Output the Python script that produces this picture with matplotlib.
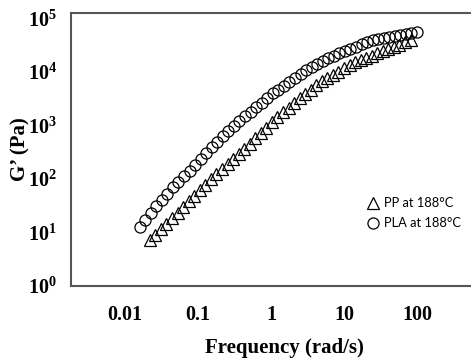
import matplotlib
matplotlib.use('Agg')
import matplotlib.pyplot as plt
import matplotlib.ticker as tck

# PLA at 188 C
pla_freq = [0.0158, 0.0189, 0.0225, 0.0268, 0.0319, 0.0380, 0.0453, 0.0540, 0.0643, 0.0766,
            0.0912, 0.109, 0.129, 0.154, 0.184, 0.219, 0.261, 0.310, 0.370, 0.441,
            0.525, 0.625, 0.745, 0.887, 1.06, 1.26, 1.50, 1.79, 2.13, 2.54,
            3.02, 3.60, 4.29, 5.11, 6.08, 7.24, 8.63, 10.3, 12.2, 14.6,
            17.4, 20.7, 24.7, 29.4, 35.0, 41.7, 49.7, 59.2, 70.5, 83.9, 100.0]
pla_g = [12.4, 16.9, 22.9, 31.2, 41.0, 53.4, 69.8, 88.9, 113.0, 143.5,
         184.5, 237.1, 304.8, 388.1, 492.0, 625.2, 788.9, 975.0, 1205, 1486,
         1811, 2198, 2679, 3251, 3963, 4688, 5546, 6561, 7745, 9162,
         10840, 12360, 14000, 15810, 17910, 20230, 22910, 25060, 27290, 29790,
         32510, 35480, 38640, 40460, 42270, 44060, 46130, 48190, 50230, 52600, 54830]

# PP at 188 C
pp_freq = [0.0219, 0.0261, 0.0310, 0.0370, 0.0441, 0.0525, 0.0625, 0.0745, 0.0887, 0.106,
           0.126, 0.150, 0.179, 0.213, 0.254, 0.302, 0.360, 0.429, 0.511, 0.608,
           0.724, 0.863, 1.03, 1.22, 1.46, 1.74, 2.07, 2.47, 2.94, 3.50,
           4.17, 4.97, 5.92, 7.05, 8.39, 10.0, 11.9, 14.2, 16.9, 20.1,
           24.0, 28.6, 34.0, 40.6, 48.3, 57.5, 68.5, 81.7]
pp_g = [7.16, 9.10, 11.6, 14.6, 18.6, 23.6, 29.9, 38.0, 48.2, 61.2,
        77.6, 98.6, 123.3, 153.5, 191.0, 237.1, 294.4, 366.4, 458.1, 575.4,
        724.4, 909.9, 1146, 1416, 1746, 2148, 2649, 3221, 3873, 4645,
        5585, 6714, 7745, 8872, 10160, 11640, 13340, 15030, 16520, 18200,
        20040, 22080, 24380, 26790, 29510, 32430, 35650, 39080]

x_ticks = [0.01, 0.1, 1, 10, 100]
x_labels = ['0.01', '0.1', '1', '10', '100']
y_ticks = [1, 10, 100, 1000, 10000, 100000]
y_labels = [r'$\mathbf{10^{%d}}$' % i for i in range(6)]

plt.rcParams.update({
    'font.family': 'Liberation Serif',
    'mathtext.fontset': 'custom',
    'mathtext.rm': 'Liberation Serif:bold',
    'mathtext.bf': 'Liberation Serif:bold',
    })

fig = plt.figure(figsize=(4.71, 3.62), dpi=100)
ax = fig.add_axes([71/471, 76/362, 400/471, 273/362])

ax.plot(pp_freq, pp_g, ls='none', marker='^', ms=8, mfc='none', mec='black', mew=0.9,
        label='PP at 188°C')
ax.plot(pla_freq, pla_g, ls='none', marker='o', ms=8, mfc='none', mec='black', mew=0.9,
        label='PLA at 188°C')

ax.set_xscale('log')
ax.set_yscale('log')
ax.set_xlim(0.00182, 549.5)
ax.set_ylim(1, 1.26e5)

ax.set_xticks(x_ticks)
ax.set_xticklabels(x_labels, fontsize=14.5, fontweight='bold')
ax.set_yticks(y_ticks)
ax.set_yticklabels(y_labels, fontsize=14.5)
ax.xaxis.set_minor_locator(tck.NullLocator())
ax.yaxis.set_minor_locator(tck.NullLocator())
ax.tick_params(axis='both', length=0)
ax.tick_params(axis='x', pad=14)
ax.tick_params(axis='y', pad=10)

for side in ['left', 'top', 'bottom']:
    ax.spines[side].set_color('#555555')
    ax.spines[side].set_linewidth(1.5)
ax.spines['right'].set_visible(False)

ax.set_xlabel('Frequency (rad/s)', fontsize=15, fontweight='bold')
ax.xaxis.set_label_coords((284 - 71) / 400, -(338 - 286) / 273)
ax.set_ylabel('G’ (Pa)', fontsize=15, fontweight='bold')
ax.yaxis.set_label_coords(-(71 - 30) / 400, (286 - 149) / 273)

ax.legend(loc='upper left', bbox_to_anchor=(360/471, 1 - 191/362), bbox_transform=fig.transFigure,
          frameon=False, borderpad=0, handlelength=1.0, handletextpad=0.35, labelspacing=0.6,
          prop={'family': ['Lato', 'DejaVu Sans'], 'size': 9.3})

plt.savefig('out.png', dpi=100)
